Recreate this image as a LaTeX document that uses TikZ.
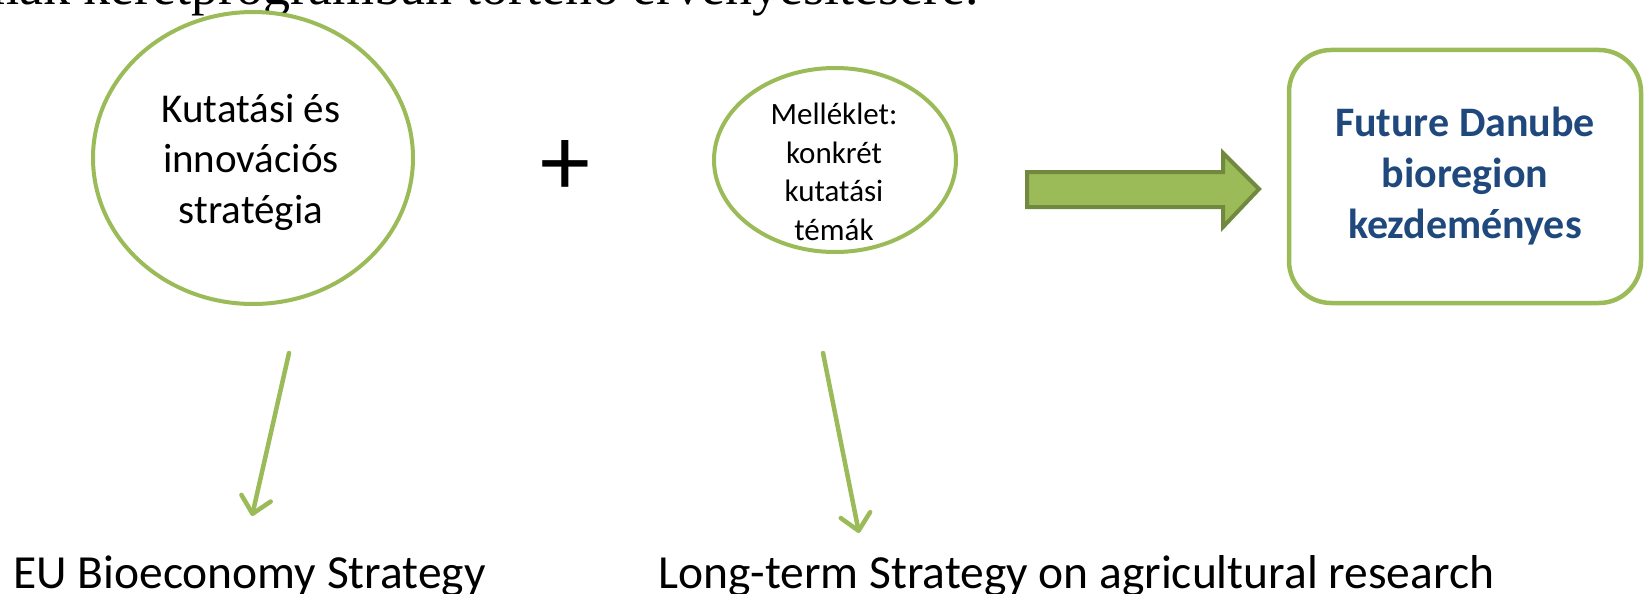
\documentclass[tikz,border=0pt]{standalone}
\usepackage{fontspec}
\setmainfont{Carlito}
\newfontfamily\serifT{Liberation Serif}
\usetikzlibrary{arrows.meta}
\definecolor{olive}{HTML}{9BBB59}
\definecolor{olivedark}{HTML}{71893F}
\definecolor{navy}{HTML}{1F497D}
\tikzset{
  ring/.style={draw=olive, line width=4pt, fill=white},
  thinarrow/.style={draw=olive, line width=4.5pt, line cap=round,
    -{Straight Barb[length=16pt,width=30pt,line cap=round,line join=round]}},
  lbl/.style={inner sep=0pt, font=\fontsize{47.5}{57}\selectfont},
}
\begin{document}
\begin{tikzpicture}[x=1pt,y=-1pt]
\useasboundingbox (0,0) rectangle (1646,594);
\clip (0,0) rectangle (1646,594);
% top (cut-off) text
\node[anchor=base east, inner sep=0pt, font=\serifT\fontsize{54}{60}\selectfont] (toptext) at (979,5) {mák keretprogramban történő érvényesítésére.};
% circles
\draw[ring] (253,158) ellipse [x radius=160, y radius=146];
\node[align=center, inner sep=0pt, font=\fontsize{41}{50.5}\selectfont] (c1) at (251,162) {Kutatási és\\innovációs\\stratégia};
\draw[ring] (835,160) ellipse [x radius=121, y radius=92];
\node[align=center, inner sep=0pt, font=\fontsize{31}{38.5}\selectfont] (c2) at (834,172) {Melléklet:\\konkrét\\kutatási\\témák};
% plus
\node[inner sep=0pt, font=\fontsize{100}{100}\selectfont] (plus) at (565,168) {+};
% block arrow
\draw[draw=olivedark, fill=olive, line width=4pt, line join=miter]
  (1027,172) -- (1223,172) -- (1223,153) -- (1259,189) -- (1223,227) -- (1223,207) -- (1027,207) -- cycle;
% box
\node[draw=olive, line width=4.5pt, rounded corners=42pt, fill=white,
      minimum width=352pt, minimum height=253pt, inner sep=0pt,
      align=center, text=navy, font=\bfseries\fontsize{42}{51}\selectfont] (box) at (1465,176.5)
  {Future Danube\\bioregion\\kezdeményes};
% thin arrows
\coordinate (a1s) at (289,353);
\coordinate (a1e) at (252,516);
\coordinate (a2s) at (823,353);
\coordinate (a2e) at (859,533);
\draw[thinarrow] (a1s) -- (a1e);
\draw[thinarrow] (a2s) -- (a2e);
% labels
\node[lbl, anchor=base west] (eu) at (13,588) {EU Bioeconomy Strategy};
\node[lbl, anchor=base west] (lt) at (658,588) {Long-term Strategy on agricultural research};
\end{tikzpicture}
\end{document}
